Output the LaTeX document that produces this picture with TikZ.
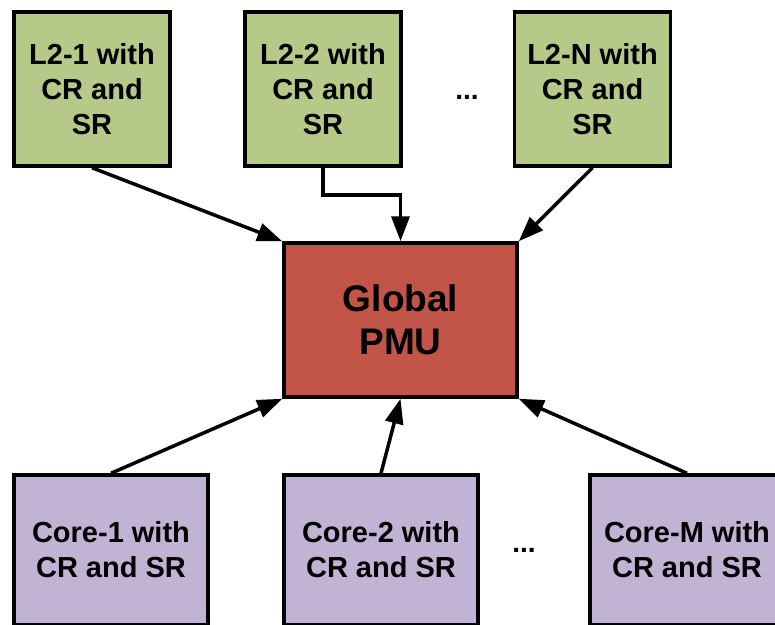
\documentclass[tikz,border=0pt]{standalone}
\usepackage{fontspec}
\setmainfont{Liberation Sans}
\usetikzlibrary{arrows.meta}
\definecolor{l2green}{RGB}{182,201,137}
\definecolor{pmured}{RGB}{194,84,72}
\definecolor{corepurple}{RGB}{193,179,211}
\tikzset{
  box/.style={draw=black, line width=3.5pt, inner sep=0pt, align=center,
    font=\fontsize{29}{35}\selectfont\bfseries},
  l2box/.style={box, fill=l2green, minimum width=156pt, minimum height=154pt},
  corebox/.style={box, fill=corepurple, minimum width=194pt, minimum height=150pt},
  pmubox/.style={box, fill=pmured, minimum width=233pt, minimum height=154pt,
    font=\fontsize{37}{43}\selectfont\bfseries},
  conn/.style={line width=3.5pt, -{Triangle[length=25pt,width=18pt]}},
  dots/.style={font=\fontsize{28}{30}\selectfont\bfseries}
}
\begin{document}
\begin{tikzpicture}[x=1pt,y=-1pt]
\clip (0,0) rectangle (775,624);
\fill[white] (0,0) rectangle (775,624);
\node[l2box] (l1) at (92,89) {L2-1 with\\CR and\\SR};
\node[l2box] (l2) at (323,89) {L2-2 with\\CR and\\SR};
\node[l2box] (ln) at (592.5,89) {L2-N with\\CR and\\SR};
\node[dots] (d1) at (467,97) {...};
\node[pmubox] (pmu) at (400.5,320) {Global\\PMU};
\node[corebox] (c1) at (111,550) {Core-1 with\\CR and SR};
\node[corebox] (c2) at (381,550) {Core-2 with\\CR and SR};
\node[corebox] (cm) at (687,550) {Core-M with\\CR and SR};
\node[dots] (d2) at (524,550) {...};
\coordinate (k1) at (323,195);
\coordinate (k2) at (400.5,195);
\draw[conn] (l1.south) -- (pmu.north west);
\draw[conn] (l2.south) -- (k1) -- (k2) -- (pmu.north);
\draw[conn] (ln.south) -- (pmu.north east);
\draw[conn] (c1.north) -- (pmu.south west);
\draw[conn] (c2.north) -- (pmu.south);
\draw[conn] (cm.north) -- (pmu.south east);
\end{tikzpicture}
\end{document}
